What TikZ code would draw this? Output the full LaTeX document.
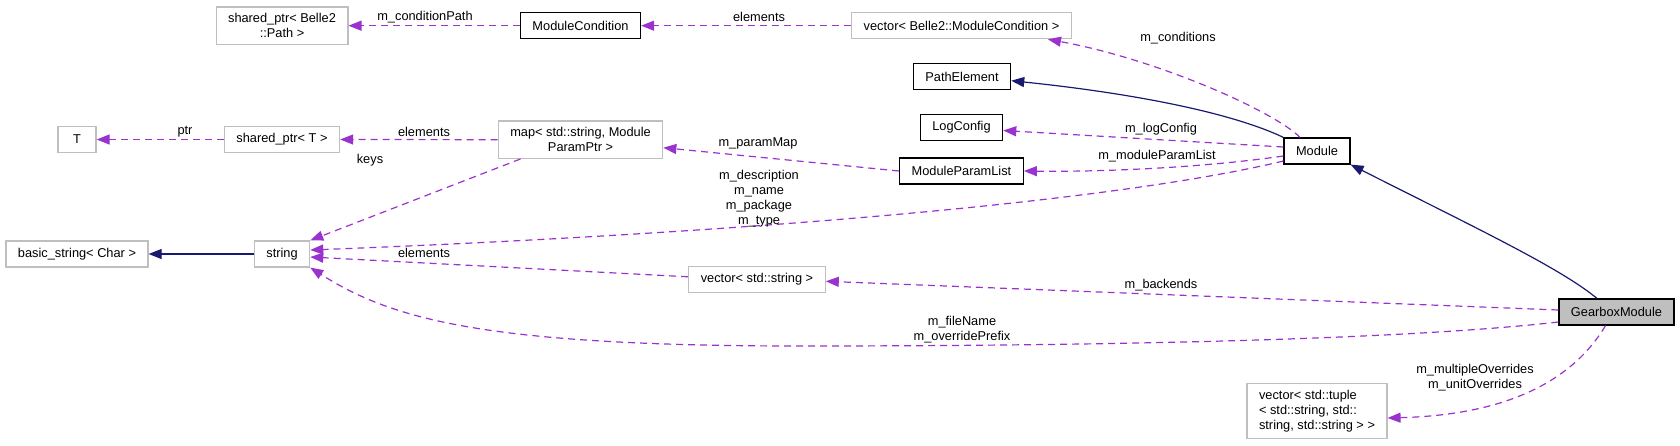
\documentclass[tikz,border=0pt]{standalone}
\usepackage{fontspec}
\setmainfont{Liberation Sans}
\usetikzlibrary{arrows.meta}

\definecolor{edgepurple}{HTML}{9A32CD}
\definecolor{edgenavy}{HTML}{191970}
\definecolor{boxgray}{HTML}{BFBFBF}

\begin{document}
\begin{tikzpicture}[x=1pt, y=-1pt,
		every node/.style={font=\fontsize{12.8}{14.9}\selectfont, align=center},
		cls/.style={draw=black, line width=1.2pt, inner xsep=12pt, inner ysep=6.5pt, minimum height=26pt},
		ext/.style={cls, draw=boxgray},
		lbl/.style={inner sep=0pt},
		usage/.style={draw=edgepurple, line width=1.2pt, dash pattern=on 7pt off 5pt, -{Triangle[length=13pt,width=10pt]}},
		inherit/.style={draw=edgenavy, line width=1.2pt, -{Triangle[length=13pt,width=10pt]}}]
	\useasboundingbox (0,0) rectangle (1680,445);
	
	% classes
	\node[ext] (pathptr) at (282,25.7) {shared\_ptr< Belle2\\::Path >};
	\node[cls] (modcond) at (580.5,25.7) {ModuleCondition};
	\node[ext] (condvec) at (961.5,25.7) {vector< Belle2::ModuleCondition >};
	\node[cls] (pathelem) at (962,76.7) {PathElement};
	\node[cls] (logcfg) at (961.5,127.5) {LogConfig};
	\node[ext, minimum width=38pt] (tparam) at (77,139.5) {T};
	\node[ext] (sharedt) at (282,139.5) {shared\_ptr< T >};
	\node[ext] (parammap) at (580.5,139.7) {map< std::string, Module\\ParamPtr >};
	\node[cls] (paramlist) at (961.5,171) {ModuleParamList};
	\node[cls] (module) at (1317,151) {Module};
	\node[ext] (basicstr) at (77,254) {basic\_string< Char >};
	\node[ext] (string) at (282,254) {string};
	\node[ext] (vecstr) at (757,279.3) {vector< std::string >};
	\node[cls, fill=boxgray] (gearbox) at (1616.5,312) {GearboxModule};
	\node[ext, align=left] (tuplevec) at (1317,411) {vector< std::tuple\\< std::string, std::\\string, std::string > >};
	
	% inheritance
	\draw[inherit] (module.north west) .. controls (1230,112) and (1130,93) .. ([yshift=-4pt]pathelem.east);
	\draw[inherit] ([xshift=-19.5pt]gearbox.north) .. controls (1560,268) and (1480,230) .. (module.south east);
	\draw[inherit] (string.west) -- (basicstr.east);
	
	% members
	\draw[usage] (modcond.west) -- (pathptr.east);
	\draw[usage] (condvec.west) -- (modcond.east);
	\draw[usage] ([xshift=-17pt]module.north) .. controls (1275,112) and (1160,60) .. ([xshift=-24pt]condvec.south east);
	\draw[usage] ([yshift=4pt]module.west) -- ([yshift=-3pt]logcfg.east);
	\draw[usage] ([yshift=-5pt]module.west) .. controls (1200,168) and (1100,172) .. (paramlist.east);
	\draw[usage] ([yshift=-10pt]module.west) .. controls (1100,205) and (700,235) .. ([yshift=4pt]string.east);
	\draw[usage] (paramlist.west) -- ([yshift=-8pt]parammap.east);
	\draw[usage] (parammap.west) -- (sharedt.east);
	\draw[usage] (sharedt.west) -- (tparam.east);
	\draw[usage] ([xshift=-60pt]parammap.south) -- (string.north east);
	\draw[usage] ([yshift=2.5pt]vecstr.west) -- ([yshift=-3pt]string.east);
	\draw[usage] ([yshift=2pt]gearbox.west) -- ([yshift=-2pt]vecstr.east);
	\draw[usage] ([yshift=-10pt]gearbox.west) .. controls (1400,340) and (1100,346) .. (800,346)
		.. controls (480,346) and (390,318) .. (string.south east);
	\draw[usage] ([xshift=-11pt]gearbox.south) .. controls (1570,385) and (1500,415) .. ([yshift=-7pt]tuplevec.east);
	
	% labels
	\node[lbl] (lcondpath) at (425,17.3) {m\_conditionPath};
	\node[lbl] (lcondelem) at (759,17.3) {elements};
	\node[lbl] (lconds) at (1178,38) {m\_conditions};
	\node[lbl] (lptr) at (185,131.7) {ptr};
	\node[lbl] (lmapelem) at (424,131.7) {elements};
	\node[lbl] (lparammap) at (758,143.3) {m\_paramMap};
	\node[lbl] (llogcfg) at (1161,129.3) {m\_logConfig};
	\node[lbl] (lparamlist) at (1157,156) {m\_moduleParamList};
	\node[lbl] (lkeys) at (370,160) {keys};
	\node[lbl] (ldesc) at (759,198.5) {m\_description\\m\_name\\m\_package\\m\_type};
	\node[lbl] (lstrelem) at (424,253) {elements};
	\node[lbl] (lbackends) at (1161,285) {m\_backends};
	\node[lbl] (lfile) at (962,330) {m\_fileName\\m\_overridePrefix};
	\node[lbl] (loverrides) at (1475,378) {m\_multipleOverrides\\m\_unitOverrides};
\end{tikzpicture}
\end{document}
